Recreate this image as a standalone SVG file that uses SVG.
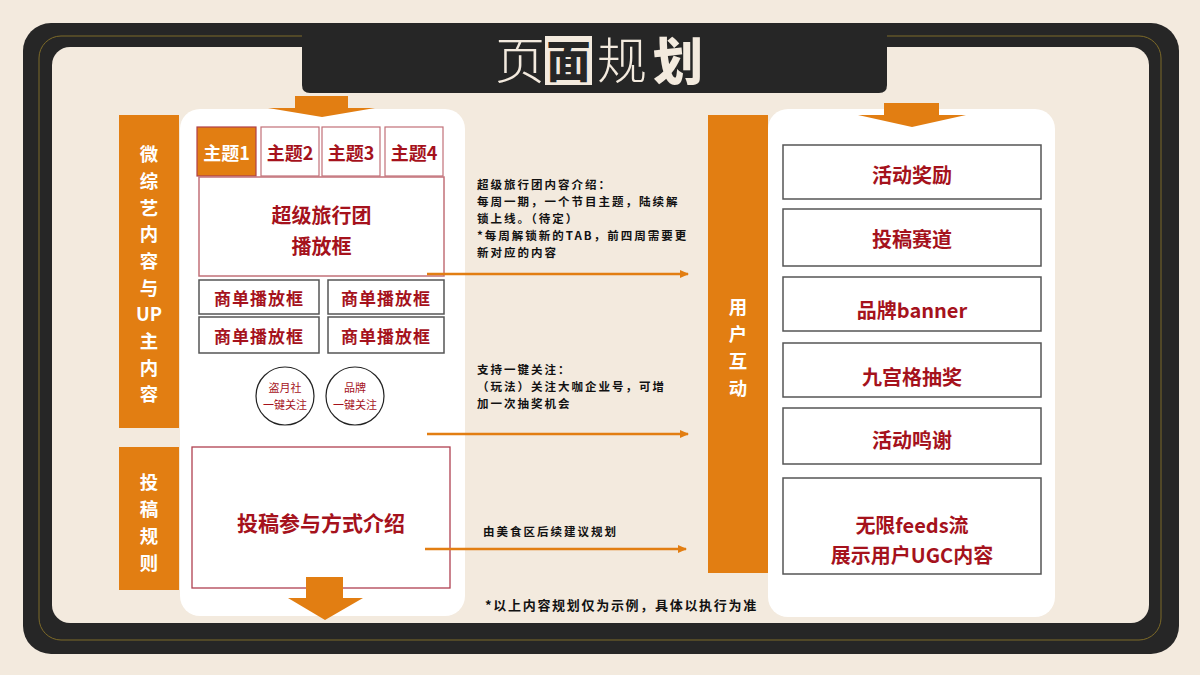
<svg xmlns="http://www.w3.org/2000/svg" width="1200" height="675" viewBox="0 0 1200 675">
<defs>
<style>
.cn{font-family:"Noto Sans CJK SC","Noto Sans",sans-serif;}
.red{fill:#A5121C;font-weight:700;}
.wt{fill:#FFFFFF;font-weight:700;}
.vt{fill:#FFFFFF;font-weight:700;font-size:18.4px;text-anchor:middle;dominant-baseline:central;}
.note{fill:#111111;font-weight:700;font-size:11.5px;letter-spacing:2px;}
.foot{fill:#111111;font-weight:700;font-size:13px;letter-spacing:1.7px;}
.panel{fill:#FFFFFF;}
.obar{fill:#E27E12;}
.gbox{fill:#FFFFFF;stroke:#555555;stroke-width:1.5;}
.pbox{fill:#FFFFFF;stroke:#C27078;stroke-width:1.5;}
.conn{stroke:#E27E12;stroke-width:2.5;fill:none;}
</style>
<marker id="ah" markerWidth="10" markerHeight="10" refX="8" refY="5" orient="auto" markerUnits="userSpaceOnUse">
<path d="M0,1 L9,5 L0,9 Z" fill="#E27E12"/>
</marker>
</defs>
<rect width="1200" height="675" fill="#F3EADE"/>
<g id="frame">
<rect x="23" y="23" width="1156" height="631" rx="28" fill="#262626"/>
<rect x="39" y="36" width="1122" height="604" rx="22" fill="none" stroke="#7D6A28" stroke-width="1"/>
<rect x="52" y="47" width="1097" height="576" rx="18" fill="#F3EADE"/>
</g>
<g id="title">
<path d="M302,23 H887 V85 Q887,93 879,93 H310 Q302,93 302,85 Z" fill="#262626"/>
<text class="cn" x="495" y="79" font-size="50" font-weight="300" fill="#F3EADE">页</text>
<rect x="545" y="36" width="47" height="49" fill="#F3EADE"/>
<text class="cn" x="568.5" y="78" font-size="44" font-weight="900" fill="#262626" text-anchor="middle">面</text>
<text class="cn" x="597" y="79" font-size="50" font-weight="300" fill="#F3EADE">规</text>
<text class="cn" x="653" y="80" font-size="50" font-weight="900" fill="#F3EADE">划</text>
</g>
<g id="left-panel">
<rect class="panel" x="180" y="109" width="285" height="507" rx="20"/>
<polygon class="obar" points="295,96 348,96 348,108 375,108 322,117 268,108 295,108"/>
</g>
<g id="bar-weizongyi">
<rect class="obar" x="119" y="115" width="60" height="313"/>
<text class="cn vt" x="149" y="153">微</text>
<text class="cn vt" x="149" y="180">综</text>
<text class="cn vt" x="149" y="207">艺</text>
<text class="cn vt" x="149" y="233">内</text>
<text class="cn vt" x="149" y="260">容</text>
<text class="cn vt" x="149" y="287">与</text>
<text class="cn vt" x="149" y="313">UP</text>
<text class="cn vt" x="149" y="340">主</text>
<text class="cn vt" x="149" y="367">内</text>
<text class="cn vt" x="149" y="393">容</text>
</g>
<g id="bar-tougao">
<rect class="obar" x="119" y="447" width="60" height="143"/>
<text class="cn vt" x="149" y="481">投</text>
<text class="cn vt" x="149" y="508">稿</text>
<text class="cn vt" x="149" y="535">规</text>
<text class="cn vt" x="149" y="562">则</text>
</g>
<g id="tab1">
<rect x="197" y="127" width="59" height="49" fill="#E27E12" stroke="#B0404A" stroke-width="1.2"/>
<text class="cn wt" x="226.5" y="152" font-size="18" text-anchor="middle" dominant-baseline="central">主题1</text>
</g>
<g id="tab2">
<rect x="261" y="127" width="58" height="49" fill="#FFFFFF" stroke="#C27078" stroke-width="1.2"/>
<text class="cn red" x="290" y="152" font-size="18" text-anchor="middle" dominant-baseline="central">主题2</text>
</g>
<g id="tab3">
<rect x="322" y="127" width="58" height="49" fill="#FFFFFF" stroke="#C27078" stroke-width="1.2"/>
<text class="cn red" x="351" y="152" font-size="18" text-anchor="middle" dominant-baseline="central">主题3</text>
</g>
<g id="tab4">
<rect x="385" y="127" width="58" height="49" fill="#FFFFFF" stroke="#C27078" stroke-width="1.2"/>
<text class="cn red" x="414" y="152" font-size="18" text-anchor="middle" dominant-baseline="central">主题4</text>
</g>
<g id="main-player">
<rect class="pbox" x="199" y="177" width="245" height="99"/>
<text class="cn red" x="321.5" y="214" font-size="20" text-anchor="middle" dominant-baseline="central">超级旅行团</text>
<text class="cn red" x="321.5" y="245" font-size="20" text-anchor="middle" dominant-baseline="central">播放框</text>
</g>
<g id="shop1">
<rect class="gbox" x="199" y="280" width="120" height="34"/>
<text class="cn red" x="259" y="297" font-size="17" text-anchor="middle" dominant-baseline="central" letter-spacing="1">商单播放框</text>
</g>
<g id="shop2">
<rect class="gbox" x="328" y="280" width="116" height="34"/>
<text class="cn red" x="386" y="297" font-size="17" text-anchor="middle" dominant-baseline="central" letter-spacing="1">商单播放框</text>
</g>
<g id="shop3">
<rect class="gbox" x="199" y="317" width="120" height="36"/>
<text class="cn red" x="259" y="335" font-size="17" text-anchor="middle" dominant-baseline="central" letter-spacing="1">商单播放框</text>
</g>
<g id="shop4">
<rect class="gbox" x="328" y="317" width="116" height="36"/>
<text class="cn red" x="386" y="335" font-size="17" text-anchor="middle" dominant-baseline="central" letter-spacing="1">商单播放框</text>
</g>
<g id="follow1">
<circle cx="285" cy="396" r="29" fill="#FFFFFF" stroke="#222222" stroke-width="1.2"/>
<text class="cn" x="285" y="387" font-size="11" fill="#A5121C" text-anchor="middle" dominant-baseline="central">盗月社</text>
<text class="cn" x="285" y="404" font-size="11" fill="#A5121C" text-anchor="middle" dominant-baseline="central">一键关注</text>
</g>
<g id="follow2">
<circle cx="355" cy="396" r="29" fill="#FFFFFF" stroke="#222222" stroke-width="1.2"/>
<text class="cn" x="355" y="387" font-size="11" fill="#A5121C" text-anchor="middle" dominant-baseline="central">品牌</text>
<text class="cn" x="355" y="404" font-size="11" fill="#A5121C" text-anchor="middle" dominant-baseline="central">一键关注</text>
</g>
<g id="submit-intro">
<rect x="192" y="447" width="258" height="141" fill="#FFFFFF" stroke="#B04050" stroke-width="1.3"/>
<text class="cn red" x="321" y="522" font-size="21" text-anchor="middle" dominant-baseline="central">投稿参与方式介绍</text>
<polygon class="obar" points="306,577 343,577 343,598 363,598 325,620 288,598 306,598"/>
</g>
<g id="notes">
<text class="cn note" x="477" y="189">超级旅行团内容介绍：</text>
<text class="cn note" x="477" y="206">每周一期，一个节目主题，陆续解</text>
<text class="cn note" x="477" y="223">锁上线。（待定）</text>
<text class="cn note" x="477" y="240">*每周解锁新的TAB，前四周需要更</text>
<text class="cn note" x="477" y="257">新对应的内容</text>
<text class="cn note" x="477" y="374">支持一键关注：</text>
<text class="cn note" x="477" y="391">（玩法）关注大咖企业号，可增</text>
<text class="cn note" x="477" y="408">加一次抽奖机会</text>
<text class="cn note" x="483" y="536">由美食区后续建议规划</text>
<text class="cn foot" x="485" y="610">*以上内容规划仅为示例，具体以执行为准</text>
</g>
<g id="connectors">
<line class="conn" x1="427" y1="274" x2="688" y2="274" marker-end="url(#ah)"/>
<line class="conn" x1="427" y1="434" x2="688" y2="434" marker-end="url(#ah)"/>
<line class="conn" x1="425" y1="549" x2="686" y2="549" marker-end="url(#ah)"/>
</g>
<g id="bar-hudong">
<rect class="obar" x="708" y="115" width="60" height="458"/>
<text class="cn vt" x="738" y="306">用</text>
<text class="cn vt" x="738" y="333">户</text>
<text class="cn vt" x="738" y="360">互</text>
<text class="cn vt" x="738" y="387">动</text>
</g>
<g id="right-panel">
<rect class="panel" x="768" y="109" width="287" height="508" rx="20"/>
<polygon class="obar" points="884,103 939,103 939,115 966,115 912,127 858,115 884,115"/>
</g>
<g id="r-reward">
<rect class="gbox" x="783" y="145" width="258" height="54"/>
<text class="cn red" x="912" y="174" font-size="20" text-anchor="middle" dominant-baseline="central">活动奖励</text>
</g>
<g id="r-track">
<rect class="gbox" x="783" y="209" width="258" height="57"/>
<text class="cn red" x="912" y="238" font-size="20" text-anchor="middle" dominant-baseline="central">投稿赛道</text>
</g>
<g id="r-banner">
<rect class="gbox" x="783" y="277" width="258" height="54"/>
<text class="cn red" x="912" y="309" font-size="20" text-anchor="middle" dominant-baseline="central">品牌banner</text>
</g>
<g id="r-lottery">
<rect class="gbox" x="783" y="343" width="258" height="54"/>
<text class="cn red" x="912" y="376" font-size="20" text-anchor="middle" dominant-baseline="central">九宫格抽奖</text>
</g>
<g id="r-thanks">
<rect class="gbox" x="783" y="408" width="258" height="56"/>
<text class="cn red" x="912" y="439" font-size="20" text-anchor="middle" dominant-baseline="central">活动鸣谢</text>
</g>
<g id="r-feeds">
<rect class="gbox" x="783" y="478" width="258" height="96"/>
<text class="cn red" x="912" y="524" font-size="20" text-anchor="middle" dominant-baseline="central">无限feeds流</text>
<text class="cn red" x="912" y="554" font-size="20" text-anchor="middle" dominant-baseline="central">展示用户UGC内容</text>
</g>
</svg>
